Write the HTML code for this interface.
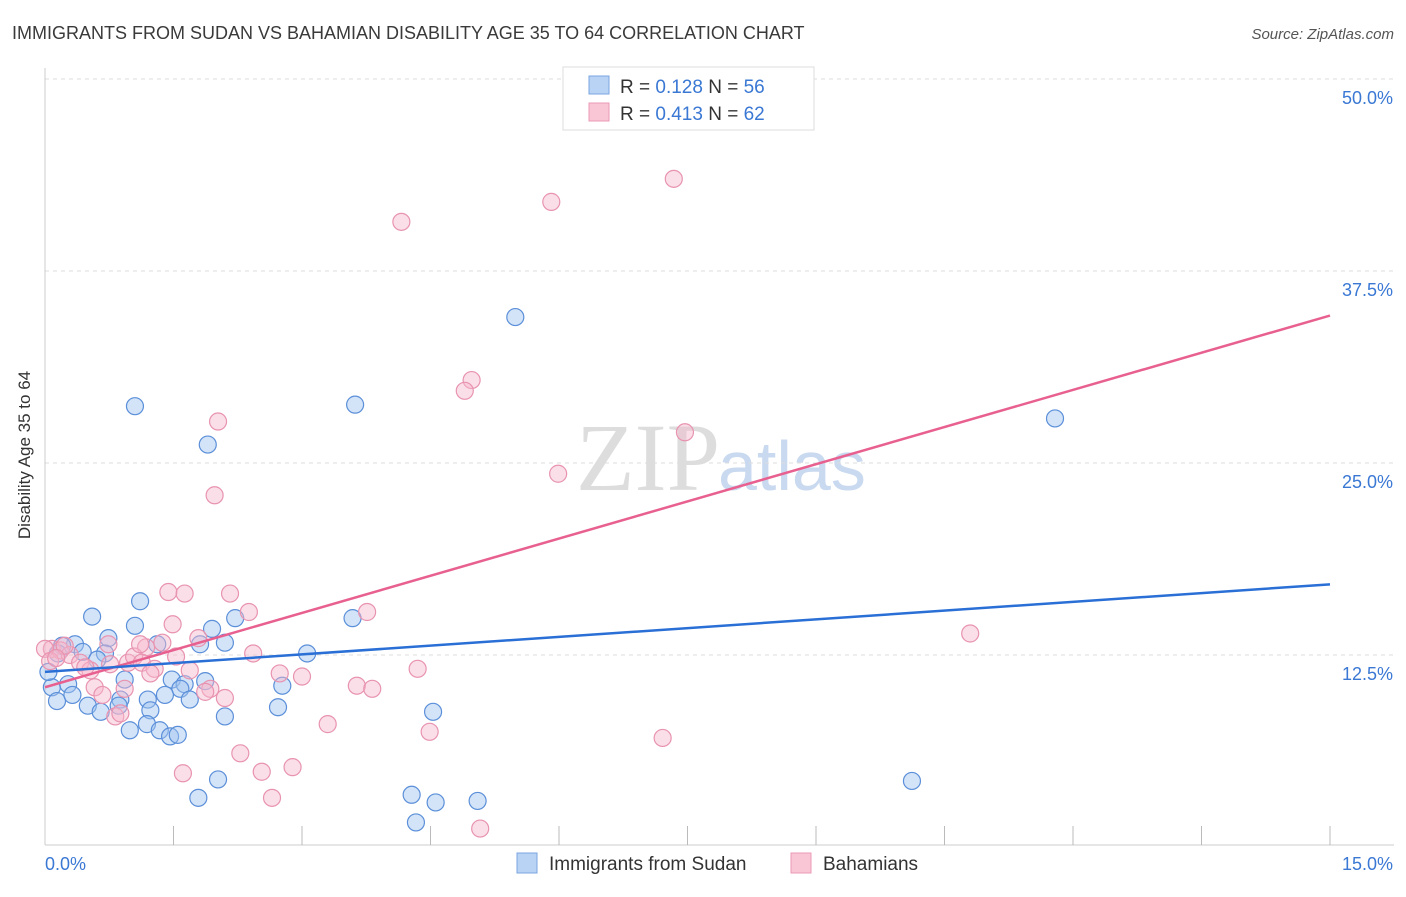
<!DOCTYPE html>
<html><head><meta charset="utf-8"><style>
body{margin:0;background:#fff;font-family:"Liberation Sans",sans-serif;}
</style></head><body>
<svg width="1406" height="892" xmlns="http://www.w3.org/2000/svg" font-family="Liberation Sans, sans-serif">
<text x="12" y="39" font-size="18" fill="#3a3a3a">IMMIGRANTS FROM SUDAN VS BAHAMIAN DISABILITY AGE 35 TO 64 CORRELATION CHART</text>
<text x="1394" y="39" font-size="15" fill="#555" font-style="italic" text-anchor="end">Source: ZipAtlas.com</text>
<text x="720" y="490" font-size="96" fill="#ddd" text-anchor="end" font-family="Liberation Serif, serif">ZIP</text>
<text x="718" y="490" font-size="70" fill="#c9d9ef">atlas</text>
<g id="grid"></g>
<g id="axes"></g>
<g id="pts"></g>
<g id="trend"></g>
<text x="30" y="455" font-size="17" fill="#333" text-anchor="middle" transform="rotate(-90 30 455)">Disability Age 35 to 64</text>
<g>
<rect x="563" y="67" width="251" height="63" fill="#fff" stroke="#ddd"/>
<rect x="589" y="76" width="20" height="18" fill="#b9d3f5" stroke="#7aa6e0"/>
<rect x="589" y="103" width="20" height="18" fill="#f9c6d6" stroke="#ec9ab5"/>
<text x="620" y="93" font-size="19" fill="#333">R = <tspan fill="#3a78d4">0.128</tspan>   N = <tspan fill="#3a78d4">56</tspan></text>
<text x="620" y="120" font-size="19" fill="#333">R = <tspan fill="#3a78d4">0.413</tspan>   N = <tspan fill="#3a78d4">62</tspan></text>
</g>
<g>
<rect x="517" y="853" width="20" height="20" fill="#b9d3f5" stroke="#7aa6e0"/>
<text x="549" y="870" font-size="19" fill="#333">Immigrants from Sudan</text>
<rect x="791" y="853" width="20" height="20" fill="#f9c6d6" stroke="#ec9ab5"/>
<text x="823" y="870" font-size="19" fill="#333">Bahamians</text>
</g>
</svg>
<script>
const yTicks=[12.5,25,37.5,50];
const yTickLabels=["12.5%","25.0%","37.5%","50.0%"];
const xLabels=["0.0%","15.0%"];
const sudanX=[1.05,1.9,3.62,5.49,11.79,0.55,1.11,2.22,1.95,3.59,0.35,0.74,1.05,1.31,1.81,2.1,3.06,0.2,0.44,0.7,0.61,0.08,0.27,0.14,0.32,0.93,1.48,1.63,1.87,1.58,1.4,1.2,0.88,0.5,0.65,0.86,1.23,1.69,2.1,2.72,2.77,4.53,1.19,1.34,0.99,1.46,1.55,2.02,1.79,4.28,4.56,5.05,4.33,10.12,0.04,0.15];
const sudanY=[28.7,26.2,28.8,34.5,27.9,15.0,16.0,14.9,14.2,14.9,13.2,13.6,14.4,13.2,13.2,13.3,12.6,13.1,12.7,12.6,12.2,10.4,10.6,9.5,9.9,10.9,10.9,10.6,10.8,10.3,9.9,9.6,9.6,9.2,8.8,9.2,8.9,9.6,8.5,9.1,10.5,8.8,8.0,7.6,7.6,7.2,7.3,4.4,3.2,3.4,2.9,3.0,1.6,4.3,11.4,12.6];
const bahX=[7.34,5.91,4.16,4.98,4.9,2.02,7.47,5.99,1.98,1.44,1.63,2.16,2.38,3.76,1.49,0.74,1.18,1.37,1.79,2.43,10.8,0.08,0.18,0,0.29,0.41,0.53,0.97,1.04,1.13,1.28,1.53,1.23,1.69,2.74,3.0,4.35,3.64,3.82,1.93,2.1,0.58,0.93,0.67,0.82,0.88,3.3,4.49,7.21,2.28,2.53,2.89,1.61,2.65,5.08,0.06,0.23,0.13,0.47,0.76,1.87,1.11];
const bahY=[43.5,42.0,40.7,30.4,29.7,27.7,27.0,24.3,22.9,16.6,16.5,16.5,15.3,15.3,14.5,13.2,13.0,13.3,13.6,12.6,13.9,12.9,12.8,12.9,12.5,12.0,11.5,12.0,12.4,12.0,11.6,12.4,11.3,11.5,11.3,11.1,11.6,10.5,10.3,10.3,9.7,10.4,10.3,9.9,8.5,8.7,8.0,7.5,7.1,6.1,4.9,5.2,4.8,3.2,1.2,12.1,13.1,12.3,11.7,11.9,10.1,13.2];
const sudanTrend=[11.4,17.1];
const bahTrend=[10.4,34.6];
const NS="http://www.w3.org/2000/svg";
const X0=45,X1=1330,Y0=847,PPU=192/12.5;
const xs=v=>X0+v/15*(X1-X0), ys=v=>Y0-v*PPU;
function mk(t,a,p){const e=document.createElementNS(NS,t);for(const k in a)e.setAttribute(k,a[k]);p.appendChild(e);return e;}
const grid=document.getElementById('grid'),axes=document.getElementById('axes');
yTicks.forEach((t,i)=>{
 const l=mk('line',{x1:X0,x2:1394,y1:ys(t),y2:ys(t),stroke:'#ddd','stroke-dasharray':'4,4'},grid);
 
 
 const tx=mk('text',{x:1393,y:ys(t)+25,'font-size':18,fill:'#3a78d4','text-anchor':'end'},axes);
 tx.textContent=yTickLabels[i];
 
 
});
mk('line',{x1:X0,x2:X0,y1:68,y2:845,stroke:'#ccc'},axes);
mk('line',{x1:X0,x2:1394,y1:845,y2:845,stroke:'#ccc'},axes);
for(let i=1;i<=10;i++){const x=X0+i*(X1-X0)/10;mk('line',{x1:x,x2:x,y1:826,y2:845,stroke:'#bbb'},axes);}
const xl0=mk('text',{x:45,y:870,'font-size':18,fill:'#3a78d4'},axes);xl0.textContent=xLabels[0];


const xl1=mk('text',{x:1393,y:870,'font-size':18,fill:'#3a78d4','text-anchor':'end'},axes);xl1.textContent=xLabels[1];


const pts=document.getElementById('pts');
sudanX.forEach((v,i)=>{const c=mk('circle',{cx:xs(v),cy:ys(sudanY[i]),r:8.5,fill:'rgba(160,195,240,0.45)',stroke:'#5b8fd9','stroke-width':1.2},pts);
 
 });
bahX.forEach((v,i)=>{const c=mk('circle',{cx:xs(v),cy:ys(bahY[i]),r:8.5,fill:'rgba(247,185,205,0.45)',stroke:'#e893b0','stroke-width':1.2},pts);
 
 });
const tr=document.getElementById('trend');
const t1=mk('line',{x1:xs(0),x2:xs(15),y1:ys(bahTrend[0]),y2:ys(bahTrend[1]),stroke:'#e8608f','stroke-width':2.5},tr);


const t2=mk('line',{x1:xs(0),x2:xs(15),y1:ys(sudanTrend[0]),y2:ys(sudanTrend[1]),stroke:'#2a6fd6','stroke-width':2.5},tr);


</script>
</body></html>
